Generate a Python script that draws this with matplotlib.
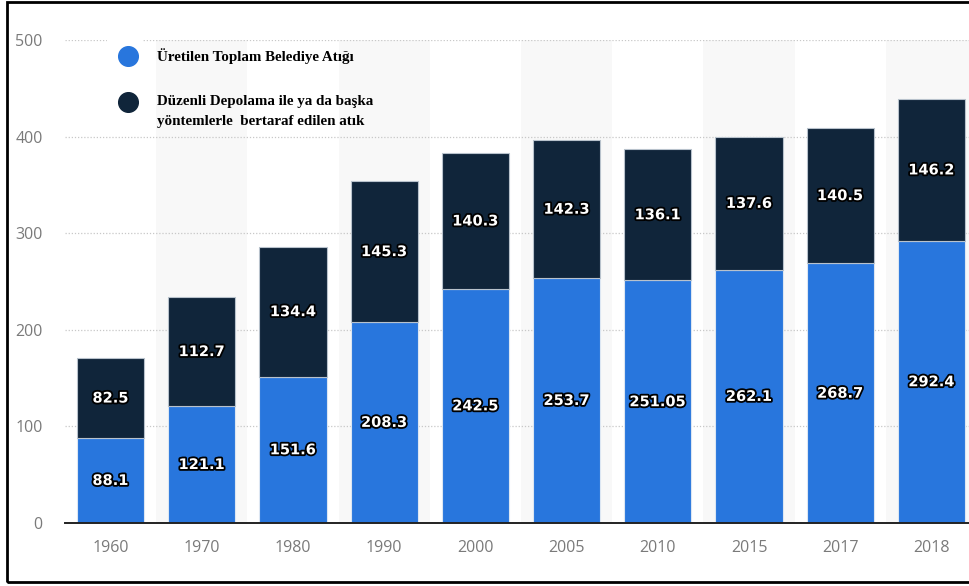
import matplotlib
matplotlib.use("Agg")
import matplotlib.pyplot as plt
import matplotlib.patheffects as pe
from matplotlib.patches import Rectangle
import numpy as np

# Yıllara göre belediye atığı (milyon ton)
years = ["1960", "1970", "1980", "1990", "2000", "2005", "2010", "2015", "2017", "2018"]
uretilen = [88.1, 121.1, 151.6, 208.3, 242.5, 253.7, 251.05, 262.1, 268.7, 292.4]
bertaraf = [82.5, 112.7, 134.4, 145.3, 140.3, 142.3, 136.1, 137.6, 140.5, 146.2]
uretilen_labels = ["88.1", "121.1", "151.6", "208.3", "242.5", "253.7", "251.05", "262.1", "268.7", "292.4"]
bertaraf_labels = ["82.5", "112.7", "134.4", "145.3", "140.3", "142.3", "136.1", "137.6", "140.5", "146.2"]
yticks = [0, 100, 200, 300, 400, 500]

BLUE = "#2876dd"
NAVY = "#10253a"
W, H = 969, 586

fig = plt.figure(figsize=(W / 100, H / 100), dpi=100)
fig.patch.set_facecolor("white")

# eksen alanı: sol 65px, alt 523px, üst 40px
ax = fig.add_axes([65 / W, (H - 523) / H, 912 / W, 483 / H])
x = np.arange(len(years))

# sütun arkaplanları (bir açık bir koyu)
for i in x:
    if i % 2 == 1:
        ax.axvspan(i - 0.5, i + 0.5, color="#f8f8f8", zorder=0.2, lw=0)

ax.set_axisbelow(True)
ax.yaxis.grid(True, linestyle=(0, (1, 1.5)), color="#c8c8c8", linewidth=0.9)

ax.bar(x, uretilen, width=0.735, color=BLUE, edgecolor="#dce6f2", linewidth=0.8, zorder=2)
ax.bar(x, bertaraf, width=0.735, bottom=uretilen, color=NAVY, edgecolor="#b8c2cc",
       linewidth=0.8, zorder=2)

outline = [pe.Stroke(linewidth=2.6, foreground="black"), pe.Normal()]
for i in x:
    ax.text(i, uretilen[i] / 2, uretilen_labels[i], ha="center", va="center",
            color="white", fontsize=10.5, fontweight="bold", family="DejaVu Sans",
            path_effects=outline, zorder=4)
    ax.text(i, uretilen[i] + bertaraf[i] / 2, bertaraf_labels[i], ha="center", va="center",
            color="white", fontsize=10.5, fontweight="bold", family="DejaVu Sans",
            path_effects=outline, zorder=4)

ax.set_xlim(-0.5, len(years) - 0.5)
ax.set_ylim(0, 500)
ax.set_xticks(x)
ax.set_xticklabels(years)
ax.set_yticks(yticks)
ax.tick_params(axis="both", length=0, labelsize=11.5, labelcolor="#7a7a7a")
ax.tick_params(axis="x", pad=12)
ax.tick_params(axis="y", pad=16)
for lbl in ax.get_xticklabels() + ax.get_yticklabels():
    lbl.set_family("Open Sans")

for s in ["top", "right", "left"]:
    ax.spines[s].set_visible(False)
ax.spines["bottom"].set_color("#222222")
ax.spines["bottom"].set_linewidth(1.4)
ax.spines["bottom"].set_zorder(3)


def ax_pos(px, py):
    return (px - 65) / 912, (523 - py) / 483


# lejant
bx, by = ax_pos(107, 118)
ax.add_patch(Rectangle((bx, by), 36 / 912, 82 / 483, transform=ax.transAxes,
                       facecolor="white", edgecolor="none", zorder=0.8, clip_on=False))
legend_items = [
    (BLUE, 56, ["Üretilen Toplam Belediye Atığı"]),
    (NAVY, 102, ["Düzenli Depolama ile ya da başka", "yöntemlerle  bertaraf edilen atık"]),
]
for color, py, lines in legend_items:
    mx, my = ax_pos(128, py)
    ax.scatter([mx], [my], s=200, color=color, transform=ax.transAxes, zorder=5, clip_on=False)
    for k, line in enumerate(lines):
        tx, ty = ax_pos(157, py + k * 19)
        ax.text(tx, ty, line, transform=ax.transAxes, ha="left", va="center",
                fontsize=10.8, fontweight="bold", family="Liberation Serif", color="black", zorder=5)

# dış çerçeve
fig.patches.append(Rectangle((7 / W, 4 / H), 1.0, 580 / H, transform=fig.transFigure,
                             facecolor="none", edgecolor="black", linewidth=2, zorder=10))

fig.savefig("out.png", dpi=100)
